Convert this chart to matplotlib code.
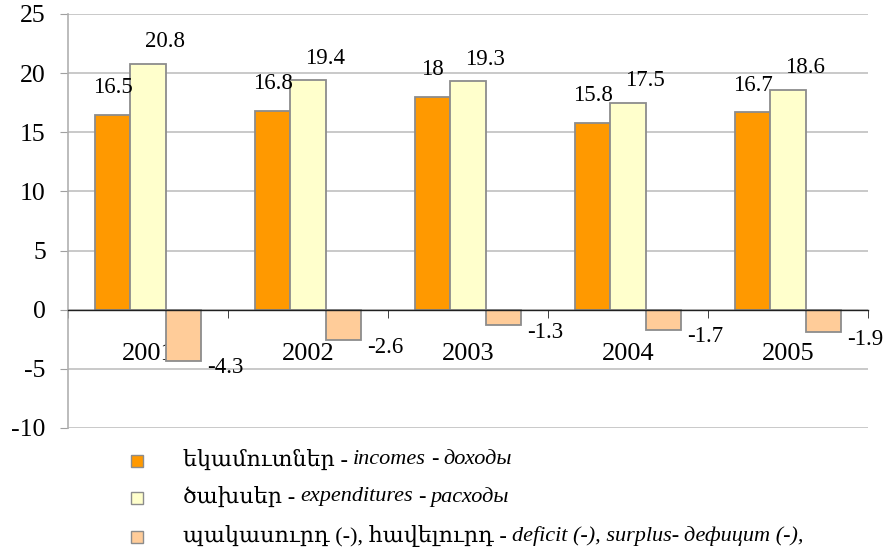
import matplotlib
matplotlib.use("Agg")
import matplotlib.pyplot as plt
from matplotlib.patches import Rectangle
import numpy as np

years = ["2001", "2002", "2003", "2004", "2005"]
incomes = [16.5, 16.8, 18.0, 15.8, 16.7]
expenditures = [20.8, 19.4, 19.3, 17.5, 18.6]
deficit = [-4.3, -2.6, -1.3, -1.7, -1.9]
yticks = [-10, -5, 0, 5, 10, 15, 20, 25]

SERIF = ["Liberation Serif", "DejaVu Serif", "DejaVu Sans"]
plt.rcParams["font.family"] = SERIF

W, H = 887, 559
fig = plt.figure(figsize=(W / 100, H / 100), dpi=100)
ax = fig.add_axes([68 / W, 1 - 428 / H, (868 - 68) / W, (428 - 14) / H])

x = np.arange(len(years))
bw = 0.22
edge = "#8c8c8c"
c_inc, c_exp, c_def = "#FF9900", "#FFFFCC", "#FFCC99"

ax.bar(x - bw, incomes, bw, color=c_inc, edgecolor=edge, linewidth=1.3, zorder=3)
ax.bar(x, expenditures, bw, color=c_exp, edgecolor=edge, linewidth=1.3, zorder=3)
ax.bar(x + bw, deficit, bw, color=c_def, edgecolor=edge, linewidth=1.3, zorder=3)

ax.set_xlim(-0.5, len(years) - 0.5)
ax.set_ylim(-10, 25)
ax.set_yticks(yticks)
ax.set_yticklabels([str(v) for v in yticks], fontsize=18.5)
ax.yaxis.grid(True, color="#c0c0c0", linewidth=1.2, zorder=0)
ax.tick_params(axis="y", length=6, color="#a0a0a0", pad=10)

for s in ["top", "right"]:
    ax.spines[s].set_visible(False)
ax.spines["left"].set_color("#b0b0b0")
ax.spines["left"].set_linewidth(1.2)
ax.spines["bottom"].set_position(("data", 0))
ax.spines["bottom"].set_color("#202020")
ax.spines["bottom"].set_linewidth(1.0)
ax.spines["bottom"].set_zorder(4)

ax.set_xticks(x)
ax.set_xticklabels(years, fontsize=19)
ax.set_xticks(np.arange(len(years) + 1) - 0.5, minor=True)
ax.tick_params(axis="x", which="major", length=0, pad=24)
ax.tick_params(axis="x", which="minor", length=6, direction="out", color="#202020")

for i in range(len(years)):
    ax.annotate(f"{incomes[i]:g}", (x[i] - bw, incomes[i]), xytext=(0, 19.5),
                textcoords="offset points", ha="center", va="center", fontsize=16.5)
    ax.annotate(f"{expenditures[i]:g}", (x[i], expenditures[i]), xytext=(12, 16),
                textcoords="offset points", ha="center", va="center", fontsize=16.5)
    ax.annotate(f"{deficit[i]:g}", (x[i] + bw, deficit[i]), xytext=(30, -5),
                textcoords="offset points", ha="center", va="center", fontsize=16.5)

# Legend (manual, with mixed italic text)
legend_rows = [
    (c_inc, [("եկամուտներ -", "normal"), ("incomes", "italic"), ("-", "normal"), ("доходы", "italic")]),
    (c_exp, [("ծախսեր -", "normal"), ("expenditures", "italic"), ("-", "normal"), ("расходы", "italic")]),
    (c_def, [("պակասուրդ (-), հավելուրդ -", "normal"), ("deficit (-), surplus-", "italic"),
             ("дефицит (-),", "italic")]),
]
row_y = [460, 497, 536]
renderer = fig.canvas.get_renderer()
space_w = 5
for (col, pieces), yy in zip(legend_rows, row_y):
    fig.add_artist(Rectangle((131 / W, 1 - (yy + 7) / H), 12 / W, 12 / H,
                             transform=fig.transFigure, facecolor=col,
                             edgecolor=edge, linewidth=1.0))
    xp = 183
    for txt, style in pieces:
        t = fig.text(xp / W, 1 - yy / H, txt, fontsize=16, style=style,
                     ha="left", va="center", family=SERIF)
        bb = t.get_window_extent(renderer)
        xp += bb.width + space_w

fig.savefig("out.png", dpi=100)
